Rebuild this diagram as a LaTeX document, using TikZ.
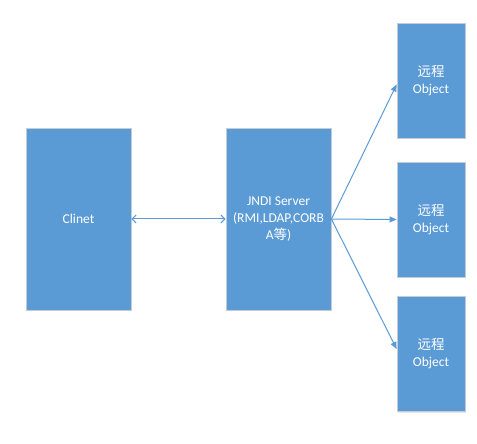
\documentclass[tikz,border=0pt]{standalone}
\usepackage{fontspec}
\setmainfont{Carlito}
\newfontfamily\cjk{Noto Sans CJK SC}
\usetikzlibrary{arrows.meta,shadows}
\definecolor{boxblue}{HTML}{5B9BD5}
\definecolor{boxline}{HTML}{C3CCD6}
\tikzset{
  box/.style={draw=boxline, line width=0.8pt, fill=boxblue, text=white, align=center,
    font=\fontsize{13.5}{17}\selectfont, inner sep=0pt,
    minimum width=105pt, minimum height=182pt,
    drop shadow={shadow xshift=1.2pt, shadow yshift=-1.2pt, opacity=.18}},
  objbox/.style={box, minimum width=68pt, minimum height=115pt},
  link/.style={draw=boxblue, line width=1pt}
}
\begin{document}
\begin{tikzpicture}[x=1pt,y=1pt]
\useasboundingbox (0,0) rectangle (477,444);
\node[box] (clinet) at (78.5,225){Clinet};
\node[box] (jndi) at (278.5,225){JNDI Server\\(RMI,LDAP,CORB\\A{\cjk 等})};
\node[objbox] (obj1) at (431,363.5){{\cjk 远程}\\Object};
\node[objbox] (obj2) at (431,224.5){{\cjk 远程}\\Object};
\node[objbox] (obj3) at (431,90){{\cjk 远程}\\Object};
\draw[link, {Straight Barb[length=4pt,width=8pt]}-{Straight Barb[length=4pt,width=8pt]}](clinet) -- (jndi);
\draw[link, -{Triangle[length=7pt,width=6pt]}](jndi.east) -- ([yshift=-4pt]obj1.west);
\draw[link, -{Triangle[length=7pt,width=6pt]}](jndi.east) -- (obj2.west);
\draw[link, -{Triangle[length=7pt,width=6pt]}](jndi.east) -- ([yshift=5pt]obj3.west);
\end{tikzpicture}
\end{document}
